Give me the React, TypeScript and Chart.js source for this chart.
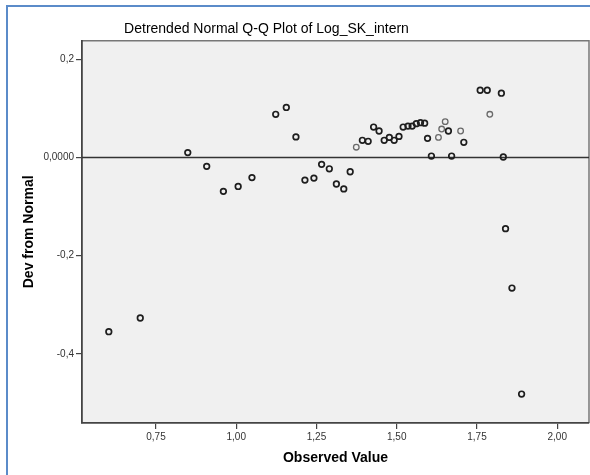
import { useEffect, useRef } from "react";
import { Chart, registerables } from "chart.js";

Chart.register(...registerables);

// Observed values (x) and deviation from normal (y), darker (overlapping) markers
const observedValues = [
  0.603, 0.701, 0.849, 0.908, 0.96, 1.006, 1.049, 1.123, 1.156, 1.186, 1.214,
  1.242, 1.266, 1.29, 1.312, 1.335, 1.355, 1.393, 1.411, 1.428, 1.445, 1.461,
  1.477, 1.492, 1.507, 1.52, 1.535, 1.548, 1.561, 1.574, 1.587, 1.596, 1.608,
  1.661, 1.671, 1.709, 1.76, 1.782, 1.826, 1.832, 1.839, 1.859, 1.889,
];
const devFromNormal = [
  -0.355, -0.327, 0.01, -0.018, -0.069, -0.059, -0.041, 0.088, 0.102, 0.042,
  -0.046, -0.042, -0.014, -0.023, -0.054, -0.064, -0.029, 0.035, 0.033, 0.062,
  0.054, 0.035, 0.041, 0.035, 0.043, 0.062, 0.064, 0.064, 0.069, 0.071, 0.07,
  0.039, 0.003, 0.054, 0.003, 0.031, 0.137, 0.137, 0.131, 0.001, -0.145,
  -0.266, -0.482,
];
// Lighter (single) markers
const observedLight = [1.374, 1.63, 1.64, 1.651, 1.699, 1.79];
const devLight = [0.021, 0.041, 0.058, 0.073, 0.054, 0.088];

const xTickValues = [0.75, 1.0, 1.25, 1.5, 1.75, 2.0];
const xTickLabels = ["0,75", "1,00", "1,25", "1,50", "1,75", "2,00"];
const yTickValues = [-0.4, -0.2, 0, 0.2];
const yTickLabels = ["-0,4", "-0,2", "0,0000", "0,2"];
const referenceValue = 0;

const xMin = 0.5195;
const xMax = 2.099;
const yMin = -0.541;
const yMax = 0.238;

const FONT = "'Liberation Sans', Arial, sans-serif";
const SHIFT = 56; // title is centred left of the canvas centre

const framePlugin = {
  id: "frame",
  beforeDraw(chart: any) {
    const { ctx, chartArea: a } = chart;
    ctx.save();
    ctx.fillStyle = "#ffffff";
    ctx.fillRect(0, 0, chart.width, chart.height);
    ctx.fillStyle = "#f0f0f0";
    ctx.fillRect(a.left, a.top, a.right - a.left, a.bottom - a.top);
    ctx.fillStyle = "#5b8bc9";
    ctx.fillRect(6, 5, chart.width - 6, 2);
    ctx.fillRect(6, 5, 2, chart.height - 5);
    ctx.strokeStyle = "#777777";
    ctx.lineWidth = 1.5;
    ctx.beginPath();
    ctx.moveTo(a.left, a.top);
    ctx.lineTo(a.right, a.top);
    ctx.lineTo(a.right, a.bottom);
    ctx.stroke();
    ctx.restore();
  },
  beforeDatasetsDraw(chart: any) {
    const { ctx, chartArea: a } = chart;
    const y = chart.scales.y.getPixelForValue(referenceValue);
    ctx.save();
    ctx.strokeStyle = "#333333";
    ctx.lineWidth = 1.5;
    ctx.beginPath();
    ctx.moveTo(a.left, y);
    ctx.lineTo(a.right, y);
    ctx.stroke();
    ctx.restore();
  },
};

export default function App() {
  const canvasRef = useRef<HTMLCanvasElement | null>(null);

  useEffect(() => {
    document.body.style.margin = "0";
    const canvas = canvasRef.current;
    if (!canvas) return;
    const chart = new Chart(canvas, {
      type: "scatter",
      data: {
        datasets: [
          {
            data: observedLight.map((x, i) => ({ x, y: devLight[i] })),
            pointRadius: 2.8,
            pointBorderWidth: 1.3,
            pointBorderColor: "#6a6a6a",
            pointBackgroundColor: "rgba(0,0,0,0)",
          },
          {
            data: observedValues.map((x, i) => ({ x, y: devFromNormal[i] })),
            pointRadius: 2.8,
            pointBorderWidth: 1.7,
            pointBorderColor: "#1e1e1e",
            pointBackgroundColor: "rgba(0,0,0,0)",
          },
        ],
      },
      options: {
        responsive: false,
        animation: false,
        layout: {
          autoPadding: false,
          padding: { left: -SHIFT, right: 1, top: 0, bottom: 0 },
        },
        plugins: {
          legend: { display: false },
          tooltip: { enabled: false },
          title: {
            display: true,
            text: "Detrended Normal Q-Q Plot of Log_SK_intern",
            color: "#000000",
            font: { family: FONT, size: 14, weight: "normal" },
            padding: { top: 21.1, bottom: 2.8 },
          },
        },
        scales: {
          x: {
            type: "linear",
            min: xMin,
            max: xMax,
            afterFit: (s: any) => {
              s.height = 52;
              s.paddingLeft = 0;
              s.paddingRight = 0;
            },
            afterBuildTicks: (s: any) => {
              s.ticks = xTickValues.map((v) => ({ value: v }));
            },
            ticks: {
              callback: (_v: any, i: number) => xTickLabels[i],
              color: "#333333",
              font: { family: FONT, size: 10 },
              padding: 2,
              maxRotation: 0,
            },
            grid: {
              display: true,
              drawOnChartArea: false,
              drawTicks: true,
              tickLength: 6,
              color: "#444444",
              lineWidth: 1.2,
            },
            border: { display: true, color: "#444444", width: 1.8 },
            title: {
              display: true,
              text: "Observed Value",
              color: "#000000",
              font: { family: FONT, size: 14, weight: "bold" },
              padding: { top: 0, bottom: 8.6 },
            },
          },
          y: {
            type: "linear",
            min: yMin,
            max: yMax,
            afterFit: (s: any) => {
              s.width = 82 + SHIFT;
              s.paddingTop = 0;
              s.paddingBottom = 0;
            },
            afterBuildTicks: (s: any) => {
              s.ticks = yTickValues.map((v) => ({ value: v }));
            },
            ticks: {
              callback: (_v: any, i: number) => yTickLabels[i],
              color: "#333333",
              font: { family: FONT, size: 10 },
              padding: 2,
            },
            grid: {
              display: true,
              drawOnChartArea: false,
              drawTicks: true,
              tickLength: 6,
              color: "#444444",
              lineWidth: 1.2,
            },
            border: { display: true, color: "#444444", width: 1.8 },
            title: {
              display: true,
              text: "Dev from Normal",
              color: "#000000",
              font: { family: FONT, size: 14, weight: "bold" },
              padding: { top: 20.6 + SHIFT, bottom: 0 },
            },
          },
        },
      },
      plugins: [framePlugin],
    } as any);
    return () => chart.destroy();
  }, []);

  return (
    <div style={{ position: "absolute", left: 0, top: 0, width: 590, height: 475 }}>
      <canvas ref={canvasRef} width={590} height={475} style={{ width: 590, height: 475 }} />
    </div>
  );
}
